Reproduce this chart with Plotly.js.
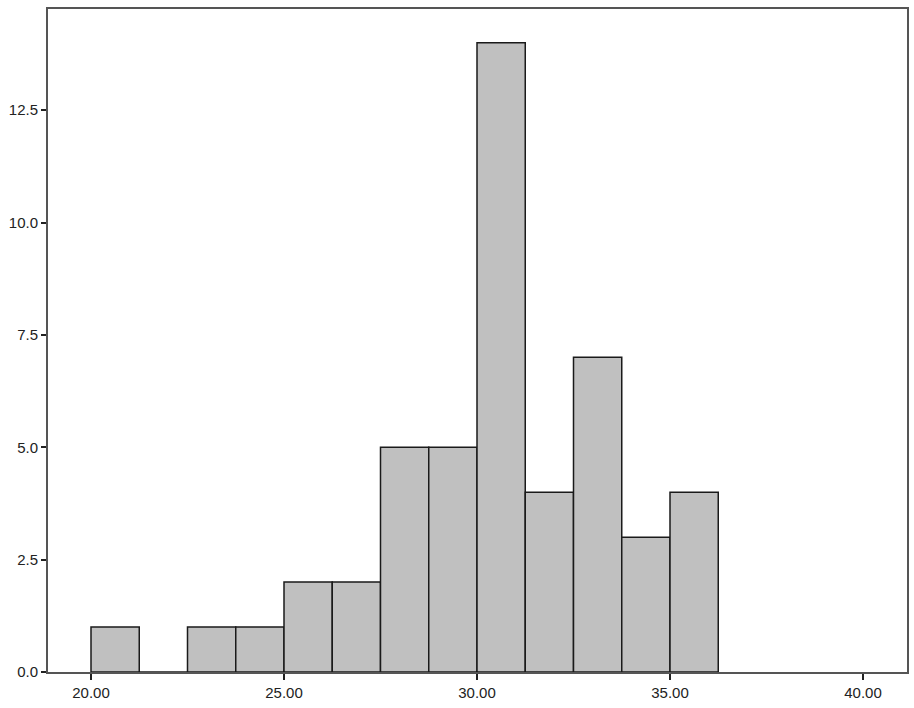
<!DOCTYPE html>
<html>
<head>
<meta charset="utf-8">
<script src="https://cdn.plot.ly/plotly-3.0.1.min.js"></script>
<style>
  html, body { margin: 0; padding: 0; background: #fff; }
  #chart { width: 914px; height: 708px; }
</style>
</head>
<body>
<div id="chart"></div>
<script>
// histogram bins (lower edge) and counts
var binStarts = [20.0, 21.25, 22.5, 23.75, 25.0, 26.25, 27.5, 28.75, 30.0, 31.25, 32.5, 33.75, 35.0];
var counts    = [1, 0, 1, 1, 2, 2, 5, 5, 14, 4, 7, 3, 4];
var binWidth = 1.25;

var xTicks = [20, 25, 30, 35, 40];
var xTickText = ['20.00', '25.00', '30.00', '35.00', '40.00'];
var yTicks = [0, 2.5, 5, 7.5, 10, 12.5];
var yTickText = ['0.0', '2.5', '5.0', '7.5', '10.0', '12.5'];

var centers = binStarts.map(function (s) { return s + binWidth / 2; });

var trace = {
  type: 'bar',
  x: centers,
  y: counts,
  width: binWidth,
  marker: {
    color: '#c0c0c0',
    line: { color: '#1a1a1a', width: 1.5 }
  },
  hoverinfo: 'x+y'
};

var layout = {
  width: 914,
  height: 708,
  margin: { l: 48, r: 7, t: 9, b: 36 },
  paper_bgcolor: '#ffffff',
  plot_bgcolor: '#ffffff',
  showlegend: false,
  font: { family: 'Arial, Liberation Sans, sans-serif', size: 15, color: '#222222' },
  xaxis: {
    range: [18.886, 41.14],
    tickvals: xTicks,
    ticktext: xTickText,
    ticks: 'outside',
    ticklen: 6,
    tickwidth: 2,
    tickcolor: '#222222',
    showgrid: false,
    zeroline: false,
    showline: true,
    linecolor: '#555555',
    linewidth: 2,
    mirror: true
  },
  yaxis: {
    range: [0, 14.75],
    tickvals: yTicks,
    ticktext: yTickText,
    ticks: 'outside',
    ticklen: 5,
    tickwidth: 2,
    tickcolor: '#222222',
    showgrid: false,
    zeroline: false,
    showline: true,
    linecolor: '#555555',
    linewidth: 2,
    mirror: true
  }
};

Plotly.newPlot('chart', [trace], layout, { displayModeBar: false, staticPlot: true });
</script>
</body>
</html>
